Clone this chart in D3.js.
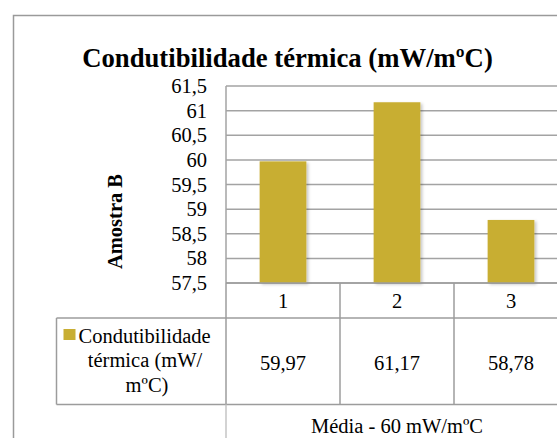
<!DOCTYPE html>
<html>
<head>
<meta charset="utf-8">
<script src="https://cdn.jsdelivr.net/npm/d3@7"></script>
<style>
  html, body { margin: 0; padding: 0; background: #fff; }
  svg { display: block; }
</style>
</head>
<body>
<svg id="chart" width="557" height="438"></svg>
<script>
// Data
const categories = ["1", "2", "3"];
const values = [59.97, 61.17, 58.78];
const yTicks = [57.5, 58, 58.5, 59, 59.5, 60, 60.5, 61, 61.5];
const seriesName = ["Condutibilidade", "térmica (mW/", "mºC)"];
const titleText = "Condutibilidade térmica (mW/mºC)";
const yAxisTitle = "Amostra B";
const footerText = "Média - 60 mW/mºC";

const serif = "'Liberation Serif', 'Times New Roman', Tinos, 'DejaVu Serif', serif";
const barColor = "#c8ae33";
const gridColor = "#a3a3a3";
const tableColor = "#9c9c9c";

const locale = d3.formatLocale({ decimal: ",", thousands: ".", grouping: [3], currency: ["", ""] });
const fmtTick = locale.format(".1~f");
const fmtVal = locale.format(".2f");

const svg = d3.select("#chart");

const defs = svg.append("defs");
const f = defs.append("filter").attr("id", "shadow")
  .attr("x", "-20%").attr("y", "-20%").attr("width", "150%").attr("height", "150%");
f.append("feDropShadow").attr("dx", 2).attr("dy", 1.5).attr("stdDeviation", 1.5)
  .attr("flood-color", "#000").attr("flood-opacity", 0.22);

// Outer frame
svg.append("rect")
  .attr("x", 13.5).attr("y", 15.5).attr("width", 600).attr("height", 500)
  .attr("fill", "none").attr("stroke", "#9a9a9a").attr("stroke-width", 1.5);

// Scales
const plotLeft = 226, plotRight = 568;
const x = d3.scaleBand().domain(categories).range([plotLeft, plotRight]).padding(0);
const y = d3.scaleLinear().domain([57.5, 61.5]).range([283, 86]);
const barW = x.bandwidth() * 0.41;

// Title
svg.append("text")
  .attr("x", 287.5).attr("y", 67)
  .attr("text-anchor", "middle")
  .style("font-size", "26.7px").style("font-weight", "bold")
  .text(titleText);

// Gridlines
svg.append("g").selectAll("line").data(yTicks).join("line")
  .attr("x1", plotLeft).attr("x2", 557)
  .attr("y1", d => y(d)).attr("y2", d => y(d))
  .attr("stroke", gridColor).attr("stroke-width", 1.5);

// Left axis line of plot area
svg.append("line")
  .attr("x1", plotLeft).attr("x2", plotLeft)
  .attr("y1", y(61.5)).attr("y2", y(57.5))
  .attr("stroke", gridColor).attr("stroke-width", 1.5);

// Y axis labels
const yAxis = d3.axisLeft(y).tickValues(yTicks).tickFormat(fmtTick).tickSize(0).tickPadding(0);
const gy = svg.append("g").attr("transform", "translate(207,0)").call(yAxis);
gy.select(".domain").remove();
gy.attr("font-family", null).attr("font-size", null);
gy.selectAll("text").style("font-size", "20.5px").attr("fill", "#000");

// Y axis title
svg.append("text")
  .attr("transform", "translate(122,221.5) rotate(-90)")
  .attr("text-anchor", "middle")
  .style("font-size", "20.5px").style("font-weight", "bold")
  .text(yAxisTitle);

// Bars
svg.append("g").selectAll("rect").data(values).join("rect")
  .attr("x", (d, i) => x(categories[i]) + (x.bandwidth() - barW) / 2)
  .attr("width", barW)
  .attr("y", d => y(d))
  .attr("height", d => y(57.5) - y(d))
  .attr("fill", barColor)
  .attr("filter", "url(#shadow)");

// Data table
const rowTop = y(57.5), rowMid = 318, rowBot = 404.5, legendLeft = 56.5;
const tbl = svg.append("g").attr("stroke", tableColor).attr("stroke-width", 1.5);
tbl.append("line").attr("x1", plotLeft).attr("x2", 557).attr("y1", rowTop).attr("y2", rowTop);
tbl.append("line").attr("x1", legendLeft).attr("x2", 557).attr("y1", rowMid).attr("y2", rowMid);
tbl.append("line").attr("x1", legendLeft).attr("x2", 557).attr("y1", rowBot).attr("y2", rowBot);
tbl.append("line").attr("x1", legendLeft).attr("x2", legendLeft).attr("y1", rowMid).attr("y2", rowBot);
tbl.append("line").attr("x1", plotLeft).attr("x2", plotLeft).attr("y1", rowTop).attr("y2", rowBot);
tbl.selectAll(".col").data(categories.slice(1)).join("line")
  .attr("x1", d => x(d)).attr("x2", d => x(d))
  .attr("y1", rowTop).attr("y2", rowBot);
svg.append("line")
  .attr("x1", plotLeft).attr("x2", plotLeft).attr("y1", rowBot).attr("y2", 438)
  .attr("stroke", "#c4c4c4").attr("stroke-width", 1.5);

// Category labels
svg.append("g").selectAll("text").data(categories).join("text")
  .attr("x", d => x(d) + x.bandwidth() / 2).attr("y", 307.5)
  .attr("text-anchor", "middle").style("font-size", "20.5px")
  .text(d => d);

// Value cells
svg.append("g").selectAll("text").data(values).join("text")
  .attr("x", (d, i) => x(categories[i]) + x.bandwidth() / 2).attr("y", 370)
  .attr("text-anchor", "middle").style("font-size", "20.5px")
  .text(d => fmtVal(d));

// Legend cell
svg.append("rect").attr("x", 63.5).attr("y", 329).attr("width", 12).attr("height", 11)
  .attr("fill", barColor);
svg.append("text").attr("x", 78.5).attr("y", 342.5).style("font-size", "20.5px").text(seriesName[0]);
svg.append("text").attr("x", 145).attr("y", 367).attr("text-anchor", "middle").style("font-size", "20.5px").text(seriesName[1]);
svg.append("text").attr("x", 147).attr("y", 391.5).attr("text-anchor", "middle").style("font-size", "20.5px").text(seriesName[2]);

// Footer
svg.append("text")
  .attr("x", (plotLeft + plotRight) / 2).attr("y", 433)
  .attr("text-anchor", "middle").style("font-size", "20.5px")
  .text(footerText);

// Serif face for every label
svg.selectAll("text").style("font-family", serif).attr("fill", "#000");
</script>
</body>
</html>
